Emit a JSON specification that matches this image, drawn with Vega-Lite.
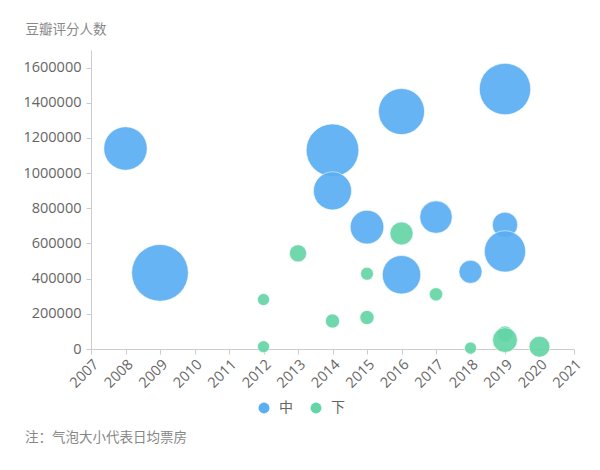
{
  "$schema": "https://vega.github.io/schema/vega-lite/v6.json",
  "autosize": "none",
  "width": 483,
  "height": 299,
  "padding": {"left": 91, "top": 50, "right": 26, "bottom": 121},
  "background": "white",
  "config": {
    "font": "Open Sans, Noto Sans CJK SC",
    "view": {"stroke": null}
  },
  "title": {
    "text": "注：气泡大小代表日均票房",
    "orient": "bottom",
    "anchor": "start",
    "frame": "group",
    "dx": -66,
    "offset": 16,
    "fontSize": 13.5,
    "fontWeight": "normal",
    "color": "#888888",
    "font": "Noto Sans CJK SC"
  },
  "data": {
    "values": [
      {"year": 2008, "ratings": 1140000, "box": 600, "group": "中"},
      {"year": 2009, "ratings": 433000, "box": 1024, "group": "中"},
      {"year": 2014, "ratings": 1130000, "box": 882, "group": "中"},
      {"year": 2014, "ratings": 899000, "box": 462, "group": "中"},
      {"year": 2016, "ratings": 1350000, "box": 676, "group": "中"},
      {"year": 2019, "ratings": 1478000, "box": 841, "group": "中"},
      {"year": 2015, "ratings": 693000, "box": 361, "group": "中"},
      {"year": 2017, "ratings": 750000, "box": 335, "group": "中"},
      {"year": 2019, "ratings": 706000, "box": 204, "group": "中"},
      {"year": 2019, "ratings": 555000, "box": 543, "group": "中"},
      {"year": 2016, "ratings": 422000, "box": 471, "group": "中"},
      {"year": 2018, "ratings": 439000, "box": 169, "group": "中"},
      {"year": 2012, "ratings": 281000, "box": 46, "group": "下"},
      {"year": 2012, "ratings": 13000, "box": 46, "group": "下"},
      {"year": 2013, "ratings": 544000, "box": 94, "group": "下"},
      {"year": 2014, "ratings": 159000, "box": 64, "group": "下"},
      {"year": 2015, "ratings": 428000, "box": 53, "group": "下"},
      {"year": 2015, "ratings": 179000, "box": 64, "group": "下"},
      {"year": 2016, "ratings": 657000, "box": 169, "group": "下"},
      {"year": 2017, "ratings": 311000, "box": 56, "group": "下"},
      {"year": 2018, "ratings": 5000, "box": 46, "group": "下"},
      {"year": 2019, "ratings": 86000, "box": 81, "group": "下"},
      {"year": 2019, "ratings": 51000, "box": 196, "group": "下"},
      {"year": 2020, "ratings": 13000, "box": 139, "group": "下"}
    ]
  },
  "mark": {"type": "circle", "opacity": 0.92, "stroke": "#ffffff", "strokeWidth": 0.6},
  "encoding": {
    "x": {
      "field": "year",
      "type": "quantitative",
      "scale": {"domain": [2007, 2021], "nice": false, "zero": false},
      "axis": {
        "values": [2007, 2008, 2009, 2010, 2011, 2012, 2013, 2014, 2015, 2016, 2017, 2018, 2019, 2020, 2021],
        "format": "d",
        "labelAngle": -45,
        "labelFontSize": 14.5,
        "labelOverlap": false,
        "labelColor": "#666666",
        "domainColor": "#cccccc",
        "tickColor": "#cccccc",
        "tickSize": 5,
        "labelPadding": 3,
        "grid": false,
        "title": null
      }
    },
    "y": {
      "field": "ratings",
      "type": "quantitative",
      "scale": {"domain": [0, 1700000], "nice": false},
      "axis": {
        "values": [0, 200000, 400000, 600000, 800000, 1000000, 1200000, 1400000, 1600000],
        "format": "d",
        "labelFontSize": 14.5,
        "labelOverlap": false,
        "labelColor": "#666666",
        "domainColor": "#cccccc",
        "tickColor": "#cccccc",
        "tickSize": 5,
        "labelPadding": 5,
        "grid": false,
        "title": "豆瓣评分人数",
        "titleAngle": 0,
        "titleAlign": "left",
        "titleBaseline": "middle",
        "titleX": -66,
        "titleY": -21,
        "titleFontSize": 13.5,
        "titleFontWeight": "normal",
        "titleColor": "#888888",
        "titleFont": "Noto Sans CJK SC"
      }
    },
    "color": {
      "field": "group",
      "type": "nominal",
      "scale": {"domain": ["中", "下"], "range": ["#5aaef2", "#64d5a6"]},
      "legend": {
        "title": null,
        "orient": "none",
        "direction": "horizontal",
        "legendX": 166,
        "legendY": 351,
        "symbolType": "circle",
        "symbolSize": 120,
        "symbolOpacity": 1,
        "symbolStrokeWidth": 0,
        "labelFontSize": 14,
        "labelColor": "#666666",
        "labelFont": "Noto Sans CJK SC",
        "columnPadding": 16,
        "labelOffset": 8
      }
    },
    "size": {
      "field": "box",
      "type": "quantitative",
      "scale": {"domain": [0, 1000], "range": [0, 3141.6]},
      "legend": null
    }
  }
}
